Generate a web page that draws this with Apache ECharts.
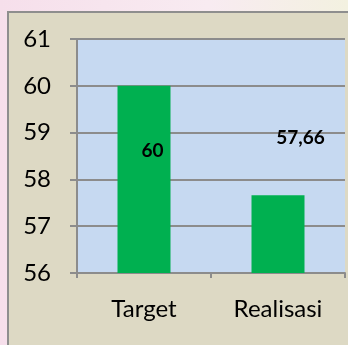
<!DOCTYPE html>
<html>
<head>
<meta charset="utf-8">
<script src="https://cdn.jsdelivr.net/npm/echarts@6/dist/echarts.min.js"></script>
<style>
  html, body { margin: 0; padding: 0; }
  #chart { width: 348px; height: 345px; }
</style>
</head>
<body>
<div id="chart"></div>
<script>
// Target vs. realisation
const categories = ['Target', 'Realisasi'];
const values = [60, 57.66];
const valueLabels = ['60', '57,66'];
const yMin = 56;
const yMax = 61;
const yStep = 1;

const chart = echarts.init(document.getElementById('chart'));

// label placement inside each bar's rectangle
const labelPositions = [[35, 65], [49, -57]];

chart.setOption({
  animation: false,
  backgroundColor: {
    type: 'linear', x: 0, y: 0, x2: 1, y2: 0,
    colorStops: [
      { offset: 0, color: '#f6dfeb' },
      { offset: 0.6, color: '#f8ebf1' },
      { offset: 1, color: '#f3f1e0' }
    ]
  },
  graphic: [{
    type: 'rect',
    z: -10,
    shape: { x: 8, y: 12, width: 345, height: 340 },
    style: { fill: '#ddd9c4', stroke: '#8e8e8e', lineWidth: 2 }
  }],
  grid: {
    left: 77, top: 39, right: 3, bottom: 72,
    show: true, backgroundColor: '#c6d9f1', borderWidth: 0
  },
  xAxis: {
    type: 'category',
    data: categories,
    axisLine: { lineStyle: { color: '#8c8c8c', width: 2 } },
    axisTick: { show: true, length: 5, lineStyle: { color: '#8c8c8c', width: 2 } },
    axisLabel: { color: '#000', fontFamily: 'Lato', fontSize: 24, margin: 24 }
  },
  yAxis: {
    type: 'value',
    min: yMin, max: yMax, interval: yStep,
    axisLine: { show: true, lineStyle: { color: '#8c8c8c', width: 2 } },
    axisTick: { show: true, length: 7, lineStyle: { color: '#8c8c8c', width: 2 } },
    splitLine: { lineStyle: { color: '#8c8c8c', width: 2 } },
    axisLabel: { color: '#000', fontFamily: 'Lato', fontSize: 24, margin: 26 }
  },
  series: [{
    type: 'bar',
    barWidth: 53,
    itemStyle: { color: '#00b050' },
    data: values.map((v, i) => ({
      value: v,
      label: {
        show: true,
        position: labelPositions[i],
        align: 'center',
        verticalAlign: 'middle',
        formatter: () => valueLabels[i],
        color: '#000',
        fontFamily: 'Lato',
        fontWeight: 'bold',
        fontSize: 19
      }
    }))
  }]
});
</script>
</body>
</html>
